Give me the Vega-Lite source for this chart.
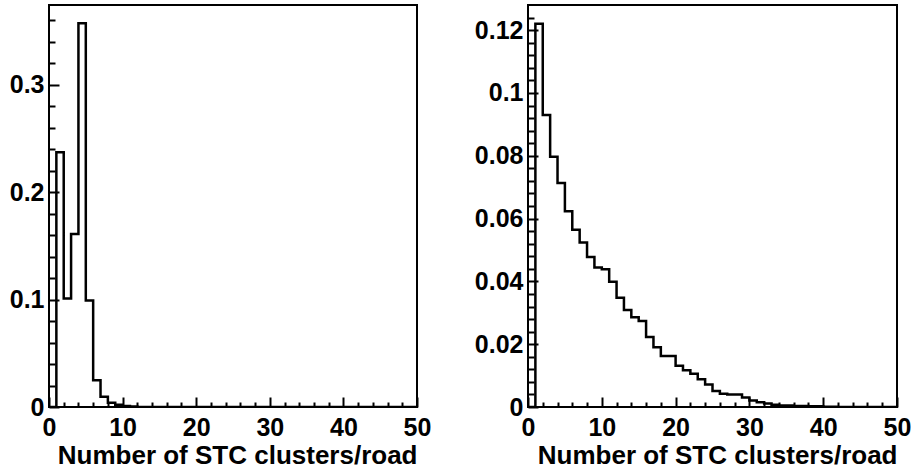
{
  "$schema": "https://vega.github.io/schema/vega-lite/v6.json",
  "padding": {"left": 8, "top": 4, "right": 0, "bottom": 6},
  "background": "white",
  "bounds": "flush",
  "spacing": 111,
  "config": {
    "view": {"stroke": "black", "strokeWidth": 2},
    "font": "Liberation Sans",
    "axis": {
      "domain": false,
      "grid": false,
      "tickColor": "black",
      "tickWidth": 2,
      "labelFont": "Liberation Sans",
      "labelFontWeight": "bold",
      "labelFontSize": 25,
      "labelColor": "black",
      "titleFont": "Liberation Sans",
      "titleFontWeight": "bold",
      "titleFontSize": 26,
      "titleColor": "black"
    }
  },
  "datasets": {
    "left": [
      {"n": 0, "frac": 0}, {"n": 1, "frac": 0.237}, {"n": 2, "frac": 0.101}, {"n": 3, "frac": 0.161},
      {"n": 4, "frac": 0.357}, {"n": 5, "frac": 0.099}, {"n": 6, "frac": 0.025}, {"n": 7, "frac": 0.0095},
      {"n": 8, "frac": 0.004}, {"n": 9, "frac": 0.002}, {"n": 10, "frac": 0.001}, {"n": 11, "frac": 0.0005},
      {"n": 12, "frac": 0}, {"n": 50, "frac": 0}
    ],
    "right": [
      {"n": 0, "frac": 0}, {"n": 1, "frac": 0.122}, {"n": 2, "frac": 0.093}, {"n": 3, "frac": 0.0797},
      {"n": 4, "frac": 0.0713}, {"n": 5, "frac": 0.0623}, {"n": 6, "frac": 0.0564}, {"n": 7, "frac": 0.0524},
      {"n": 8, "frac": 0.0478}, {"n": 9, "frac": 0.0444}, {"n": 10, "frac": 0.0439}, {"n": 11, "frac": 0.0399},
      {"n": 12, "frac": 0.0348}, {"n": 13, "frac": 0.0309}, {"n": 14, "frac": 0.0286}, {"n": 15, "frac": 0.0274},
      {"n": 16, "frac": 0.0223}, {"n": 17, "frac": 0.019}, {"n": 18, "frac": 0.0162}, {"n": 19, "frac": 0.0162},
      {"n": 20, "frac": 0.0131}, {"n": 21, "frac": 0.0117}, {"n": 22, "frac": 0.0106}, {"n": 23, "frac": 0.0088},
      {"n": 24, "frac": 0.0072}, {"n": 25, "frac": 0.0051}, {"n": 26, "frac": 0.0042}, {"n": 27, "frac": 0.004},
      {"n": 28, "frac": 0.004}, {"n": 29, "frac": 0.003}, {"n": 30, "frac": 0.0021}, {"n": 31, "frac": 0.0015},
      {"n": 32, "frac": 0.0011}, {"n": 33, "frac": 0.0007}, {"n": 34, "frac": 0.0005}, {"n": 35, "frac": 0.0005},
      {"n": 36, "frac": 0.0003}, {"n": 37, "frac": 0.0003}, {"n": 38, "frac": 0.0002}, {"n": 39, "frac": 0.0002},
      {"n": 40, "frac": 0.0001}, {"n": 41, "frac": 0.0001}, {"n": 42, "frac": 0}, {"n": 50, "frac": 0}
    ]
  },
  "hconcat": [
    {
      "width": 368,
      "height": 402,
      "data": {"name": "left"},
      "layer": [
        {
          "mark": {"type": "line", "interpolate": "step-after", "color": "black", "strokeWidth": 2.5, "clip": true},
          "encoding": {
            "x": {
              "field": "n", "type": "quantitative",
              "scale": {"domain": [0, 50], "nice": false, "zero": false},
              "axis": {
                "title": "Number of STC clusters/road",
                "titleAnchor": "end",
                "titleAlign": "right",
                "titlePadding": 2,
                "values": [0, 10, 20, 30, 40, 50],
                "format": "d",
                "tickSize": -10,
                "labelPadding": 18,
                "labelFlush": false
              }
            },
            "y": {
              "field": "frac", "type": "quantitative",
              "scale": {"domain": [0, 0.374], "nice": false},
              "axis": {
                "title": null,
                "values": [0,0.02,0.04,0.06,0.08,0.1,0.12,0.14,0.16,0.18,0.2,0.22,0.24,0.26,0.28,0.3,0.32,0.34,0.36],
                "labelExpr": "abs(datum.value*10 - round(datum.value*10)) < 1e-6 ? format(datum.value, '~g') : ''",
                "tickSize": {"condition": {"test": "abs(datum.value*10 - round(datum.value*10)) < 1e-6", "value": -10}, "value": -6},
                "labelPadding": 15,
                "labelFlush": false
              }
            }
          }
        },
        {
          "mark": {"type": "line", "interpolate": "step-after", "color": "black", "strokeWidth": 2.5, "opacity": 0, "clip": true},
          "encoding": {
            "x": {
              "field": "n", "type": "quantitative",
              "axis": {
                "orient": "bottom",
                "title": null,
                "labels": false,
                "values": [2,4,6,8,12,14,16,18,22,24,26,28,32,34,36,38,42,44,46,48],
                "tickSize": -5
              }
            },
            "y": {"field": "frac", "type": "quantitative", "axis": null}
          }
        }
      ],
      "resolve": {"axis": {"x": "independent", "y": "independent"}}
    },
    {
      "width": 369,
      "height": 402,
      "data": {"name": "right"},
      "layer": [
        {
          "mark": {"type": "line", "interpolate": "step-after", "color": "black", "strokeWidth": 2.5, "clip": true},
          "encoding": {
            "x": {
              "field": "n", "type": "quantitative",
              "scale": {"domain": [0, 50], "nice": false, "zero": false},
              "axis": {
                "title": "Number of STC clusters/road",
                "titleAnchor": "end",
                "titleAlign": "right",
                "titlePadding": 2,
                "values": [0, 10, 20, 30, 40, 50],
                "format": "d",
                "tickSize": -10,
                "labelPadding": 18,
                "labelFlush": false
              }
            },
            "y": {
              "field": "frac", "type": "quantitative",
              "scale": {"domain": [0, 0.128], "nice": false},
              "axis": {
                "title": null,
                "values": [0,0.004,0.008,0.012,0.016,0.02,0.024,0.028,0.032,0.036,0.04,0.044,0.048,0.052,0.056,0.06,0.064,0.068,0.072,0.076,0.08,0.084,0.088,0.092,0.096,0.1,0.104,0.108,0.112,0.116,0.12,0.124],
                "labelExpr": "abs(datum.value*50 - round(datum.value*50)) < 1e-6 ? format(datum.value, '~g') : ''",
                "tickSize": {"condition": {"test": "abs(datum.value*50 - round(datum.value*50)) < 1e-6", "value": -10}, "value": -6},
                "labelPadding": 15,
                "labelFlush": false
              }
            }
          }
        },
        {
          "mark": {"type": "line", "interpolate": "step-after", "color": "black", "strokeWidth": 2.5, "opacity": 0, "clip": true},
          "encoding": {
            "x": {
              "field": "n", "type": "quantitative",
              "axis": {
                "orient": "bottom",
                "title": null,
                "labels": false,
                "values": [2,4,6,8,12,14,16,18,22,24,26,28,32,34,36,38,42,44,46,48],
                "tickSize": -5
              }
            },
            "y": {"field": "frac", "type": "quantitative", "axis": null}
          }
        }
      ],
      "resolve": {"axis": {"x": "independent", "y": "independent"}}
    }
  ]
}
